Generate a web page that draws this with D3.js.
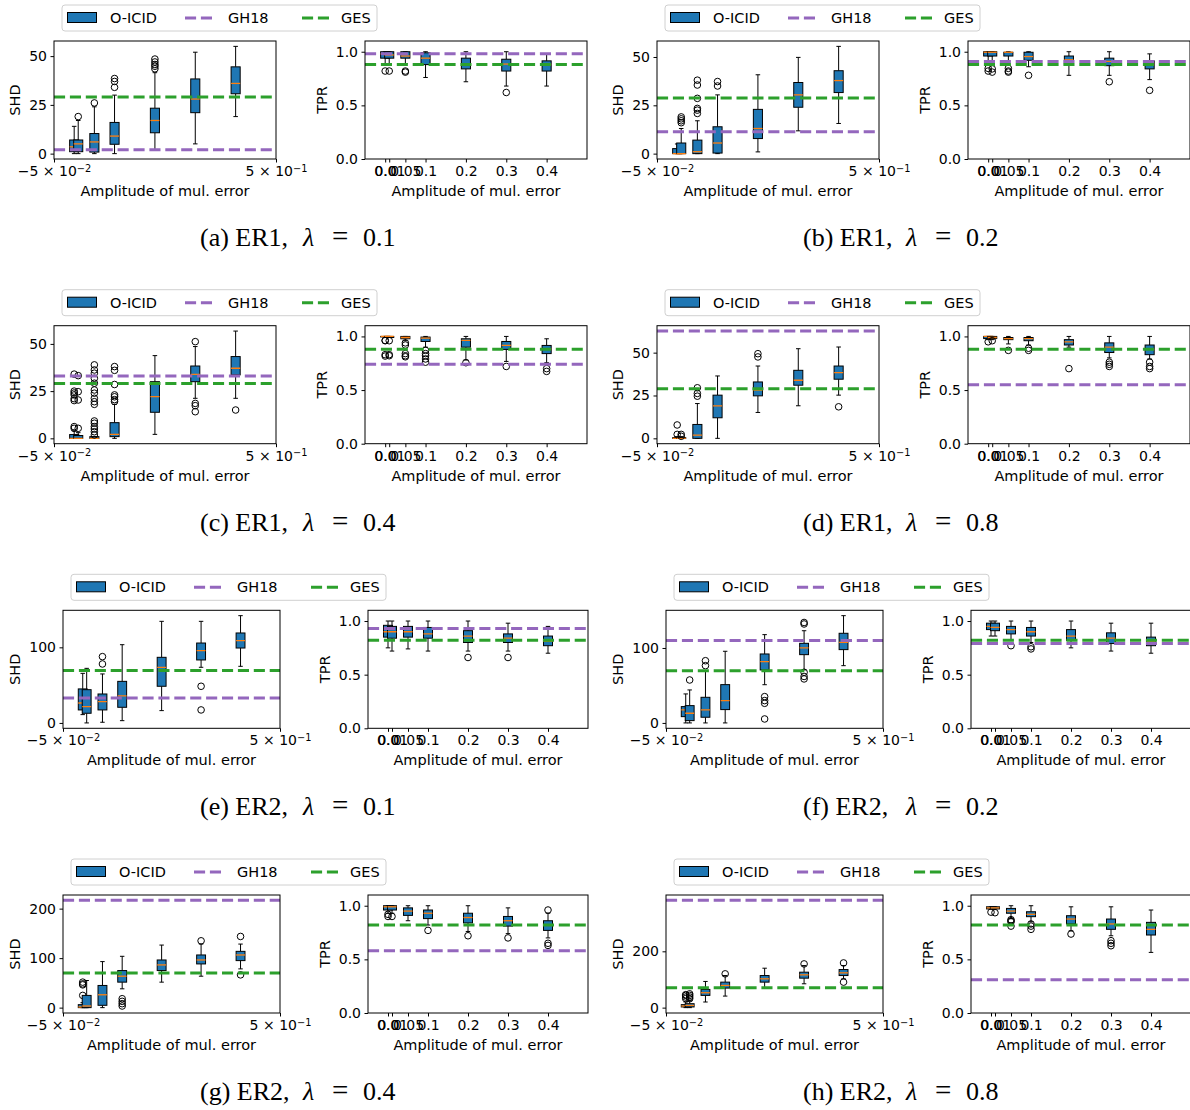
<!DOCTYPE html>
<html>
<head>
<meta charset="utf-8">
<script src="https://cdn.jsdelivr.net/npm/d3@7"></script>
<style>
  body { margin: 0; background: #fff; }
  text { font-family: "DejaVu Sans", sans-serif; fill: #000; }
  text.cap { font-family: "Liberation Serif", "DejaVu Serif", serif; }
</style>
</head>
<body>
<svg id="chart" width="1190" height="1110"></svg>
<script>
const POSITIONS = [0, 0.01, 0.05, 0.1, 0.2, 0.3, 0.4];
const TPR_TICK_LABELS = ["0.0", "0.01", "0.05", "0.1", "0.2", "0.3", "0.4"];
const PANEL_IDS = ["a", "b", "c", "d", "e", "f", "g", "h"];
const GRAPHS = ["ER1", "ER1", "ER1", "ER1", "ER2", "ER2", "ER2", "ER2"];
const LAMBDAS = ["0.1", "0.2", "0.4", "0.8", "0.1", "0.2", "0.4", "0.8"];
const SHD_TICKS = [[0, 25, 50], [0, 25, 50], [0, 25, 50], [0, 25, 50], [0, 100], [0, 100], [0, 100, 200], [0, 200]];
const TPR_TICKS = [0, 0.5, 1.0];

// reference lines (GH18, GES), one value per panel a..h
const GH18_SHD = [2, 11.3, 33, 62.6, 33, 110, 216.7, 381];
const GES_SHD = [29, 28.8, 29, 29, 69.2, 69.5, 70, 70.5];
const GH18_TPR = [0.98, 0.91, 0.74, 0.55, 0.93, 0.79, 0.58, 0.31];
const GES_TPR = [0.88, 0.88, 0.88, 0.88, 0.82, 0.82, 0.82, 0.82];

// box stats: [low whisker, q1, median, q3, high whisker, outliers]
const shdA = [
  [0, 1, 3.5, 7, 14, []],
  [0, 1, 5, 7, 17, [19]],
  [0, 0.8, 6, 10.3, 24, [26]],
  [0, 4.8, 9, 16, 30, [34, 37, 38.5]],
  [1.7, 10.7, 17, 23.3, 41.5, [43.5, 44.8, 45.7, 47, 48.5]],
  [5, 21, 28, 38.3, 52, []],
  [19, 30.7, 36, 44.5, 55, []]
];
const tprA = [
  [0.89, 0.94, 0.98, 1.0, 1.0, [0.82]],
  [0.89, 0.94, 0.97, 1.0, 1.0, [0.82]],
  [0.89, 0.94, 0.96, 1.0, 1.0, [0.82, 0.81]],
  [0.76, 0.88, 0.94, 0.99, 1.0, []],
  [0.72, 0.84, 0.885, 0.94, 1.0, []],
  [0.68, 0.82, 0.885, 0.93, 1.0, [0.62]],
  [0.68, 0.82, 0.88, 0.915, 0.98, []]
];
const shdB = [
  [0, 0, 0, 2.6, 5, []],
  [0, 0, 0, 5.5, 13, [16, 17, 18, 19]],
  [0, 0, 1, 7, 17, [20.8, 22.5, 23.4, 28.6, 35.5, 38]],
  [0, 0.3, 5.5, 13.9, 30.4, [35, 37.3]],
  [0.9, 7.8, 13, 22.9, 40.8, []],
  [11.8, 24, 30.4, 36.8, 49.8, []],
  [15.6, 31.6, 37.8, 42.9, 55.5, []]
];
const tprB = [
  [0.875, 0.96, 0.995, 1.0, 1.0, [0.845, 0.82]],
  [0.875, 0.96, 0.995, 1.0, 1.0, [0.84, 0.81]],
  [0.875, 0.96, 0.995, 0.995, 1.0, [0.845, 0.82, 0.81]],
  [0.86, 0.92, 0.955, 0.995, 1.0, [0.78]],
  [0.78, 0.885, 0.925, 0.96, 1.0, []],
  [0.78, 0.87, 0.91, 0.94, 1.0, [0.72]],
  [0.74, 0.84, 0.885, 0.915, 0.98, [0.64]]
];
const shdC = [
  [0, 0, 0, 2, 4, [5.3, 6.2, 20, 21, 23, 24, 25, 34]],
  [0, 0, 0, 1.5, 3, [5.3, 20.3, 24.7, 33.2]],
  [0, 0, 0, 0.9, 1, [1.8, 3.5, 5, 6.2, 8, 9.2, 18, 19.4, 21.2, 23.9, 25.6, 29.2, 31.8, 34.5, 36.2, 38.9]],
  [0, 0.9, 2.1, 8.3, 18, [19.5, 20.5, 22, 23, 28.5, 36, 38]],
  [2.1, 13.8, 22.1, 30, 43.8, []],
  [21.2, 30, 33.9, 38.3, 48.6, [14.1, 17.3, 18.5, 51.2]],
  [21.2, 33.6, 37.1, 43.3, 56.8, [15]]
];
const tprC = [
  [0.995, 0.995, 1.0, 1.0, 1.0, [0.963, 0.96, 0.83, 0.817]],
  [0.99, 0.99, 1.0, 1.0, 1.0, [0.96, 0.83, 0.82]],
  [0.96, 0.978, 0.99, 1.0, 1.0, [0.94, 0.92, 0.84, 0.82, 0.81]],
  [0.9, 0.953, 0.984, 0.994, 1.0, [0.87, 0.84, 0.82, 0.79, 0.76]],
  [0.78, 0.9, 0.963, 0.978, 1.0, [0.755]],
  [0.767, 0.879, 0.916, 0.953, 1.0, [0.72]],
  [0.755, 0.84, 0.885, 0.916, 0.978, [0.7, 0.674]]
];
const shdD = [
  [0, 0, 0, 0.4, 1, [2.3, 7.8]],
  [0, 0, 0, 0.4, 1, [1.2, 2.3]],
  [0, 0, 1.9, 8.1, 20.3, [24.6, 26.2, 29.5]],
  [0, 12, 19, 25.2, 36.4, []],
  [15.1, 24.8, 28.1, 32.9, 42.2, [47.5, 49.4]],
  [19, 31, 33.9, 39.7, 52.3, []],
  [25.2, 34.5, 38.4, 42.2, 53.3, [18.4]]
];
const tprD = [
  [0.97, 0.98, 1.0, 1.0, 1.0, [0.95]],
  [0.97, 0.98, 0.99, 1.0, 1.0, [0.96]],
  [0.93, 0.97, 0.98, 0.99, 1.0, [0.87]],
  [0.92, 0.96, 0.98, 0.99, 1.0, [0.89, 0.87]],
  [0.9, 0.92, 0.95, 0.97, 1.0, [0.7]],
  [0.8, 0.85, 0.9, 0.94, 1.0, [0.76, 0.74, 0.72]],
  [0.79, 0.83, 0.88, 0.92, 1.0, [0.76, 0.72, 0.7]]
];
const shdE = [
  [11, 17.2, 26.4, 45, 65.6, []],
  [0, 12.8, 21.6, 44, 72.2, []],
  [0.9, 17.2, 28.2, 38.3, 64.8, [78, 87.7]],
  [3, 20.7, 35.7, 55, 103.5, []],
  [16.3, 48.5, 73.6, 86.8, 134.4, []],
  [73.6, 83.3, 95.6, 105.7, 134.4, [48.5, 17.2]],
  [74.9, 99.1, 108.8, 119, 141.9, []]
];
const tprE = [
  [0.75, 0.85, 0.9, 0.96, 1.0, []],
  [0.72, 0.84, 0.9, 0.95, 1.0, []],
  [0.74, 0.85, 0.9, 0.95, 1.0, []],
  [0.72, 0.84, 0.88, 0.94, 1.0, []],
  [0.72, 0.8, 0.86, 0.91, 1.0, [0.66]],
  [0.72, 0.8, 0.84, 0.88, 0.98, [0.66]],
  [0.7, 0.77, 0.81, 0.86, 0.95, []]
];
const shdF = [
  [0, 8.4, 17.3, 21.8, 38.7, []],
  [0, 3.1, 12.9, 23.1, 44, [57.3]],
  [0, 7.6, 17.3, 34.2, 69.8, [76.4, 83]],
  [0, 17.8, 29.8, 51.1, 95.6, []],
  [51, 70.7, 81.8, 92, 117.8, [5.3, 26.2, 29.8, 35.1]],
  [70.7, 91.1, 100, 106.2, 123, [58.7, 62, 67.6, 132, 134]],
  [76.4, 97.8, 107.6, 119.6, 143.1, []]
];
const tprF = [
  [0.86, 0.92, 0.95, 0.98, 1.0, []],
  [0.86, 0.91, 0.94, 0.98, 1.0, []],
  [0.82, 0.88, 0.92, 0.95, 1.0, [0.77]],
  [0.8, 0.86, 0.9, 0.94, 1.0, [0.76, 0.74]],
  [0.75, 0.82, 0.86, 0.92, 1.0, []],
  [0.72, 0.79, 0.84, 0.89, 0.98, []],
  [0.7, 0.77, 0.81, 0.85, 0.98, []]
];
const shdG = [
  [0, 0, 1.3, 6, 10, [24.7, 46, 48, 51.5]],
  [0, 0, 3.3, 24.7, 54.8, []],
  [0, 4.7, 26, 44.8, 93, []],
  [38, 51.5, 63.5, 74.9, 103.7, [3.3, 8, 12.7, 18]],
  [51.5, 74.9, 86.3, 96.3, 126.4, []],
  [63.5, 88.3, 96.3, 106.4, 128.4, [135]],
  [78.3, 95, 106.4, 113.7, 128.4, [66.2, 143.8]]
];
const tprG = [
  [0.93, 0.96, 0.99, 1.0, 1.0, [0.9, 0.92]],
  [0.93, 0.96, 0.99, 1.0, 1.0, [0.9]],
  [0.86, 0.91, 0.95, 0.98, 1.0, []],
  [0.82, 0.88, 0.93, 0.96, 1.0, [0.77]],
  [0.76, 0.84, 0.89, 0.93, 1.0, [0.72]],
  [0.74, 0.81, 0.86, 0.9, 0.98, [0.7]],
  [0.7, 0.77, 0.82, 0.86, 0.93, [0.65, 0.63, 0.96]]
];
const shdH = [
  [0, 2.4, 5.9, 10.6, 20, [32, 37.6, 43.5, 46]],
  [0, 2.4, 8, 14, 26, [31.8, 37.6, 43.5, 49]],
  [20, 43.5, 52.9, 64.7, 93, []],
  [41, 69.4, 78.8, 90.6, 114, [120]],
  [69.4, 90.6, 102.4, 114, 140, []],
  [84.7, 104.7, 116.5, 125.9, 149.4, [155.3]],
  [102.4, 114, 123.5, 135.3, 149.4, [90.6, 158.8]]
];
const tprH = [
  [0.97, 0.97, 0.98, 0.99, 0.99, [0.94]],
  [0.97, 0.97, 0.98, 0.99, 0.99, [0.935]],
  [0.88, 0.93, 0.95, 0.975, 1.0, [0.81, 0.85, 0.86, 0.87]],
  [0.85, 0.898, 0.92, 0.944, 1.0, [0.83, 0.81, 0.78]],
  [0.767, 0.83, 0.876, 0.907, 0.99, [0.736]],
  [0.72, 0.78, 0.83, 0.876, 0.99, [0.674, 0.65, 0.627]],
  [0.565, 0.727, 0.78, 0.845, 0.96, []]
];

const SHD_BOXES = [shdA, shdB, shdC, shdD, shdE, shdF, shdG, shdH];
const TPR_BOXES = [tprA, tprB, tprC, tprD, tprE, tprF, tprG, tprH];

const BLUE = "#1f77b4", ORANGE = "#ff7f0e", PURPLE = "#9467bd", GREEN = "#2ca02c";
const DASH = "11.1 4.8";
const X_DOMAIN = [-0.05, 0.5];
const BOX_W = 0.0225;   // box width in data units
const FONT = 14;

const svg = d3.select("#chart");

// layout of the 4x2 grid
const COL_X = [0, 603];
const ROW_Y = [0, 284.7, 569.3, 854];
const AX_TOP = 41, AX_H = 118;
const AX_X = [
  { shd: [54, 276], tpr: [365, 587] },
  { shd: [63, 280], tpr: [368, 588] }
];

let clipId = 0;

function drawAxes(g, x0, x1, y0, boxes, yDomain, yTicks, yFmt, yLabel, lines, tprAxis) {
  const x = d3.scaleLinear().domain(X_DOMAIN).range([x0, x1]);
  const y = d3.scaleLinear().domain(yDomain).range([y0 + AX_H, y0]);
  const ax = g.append("g");

  const id = "clip" + (clipId++);
  ax.append("clipPath").attr("id", id)
    .append("rect").attr("x", x0).attr("y", y0).attr("width", x1 - x0).attr("height", AX_H);
  const plot = ax.append("g").attr("clip-path", `url(#${id})`);

  const half = (x(BOX_W) - x(0)) / 2;
  const bx = plot.selectAll(".box").data(boxes.map((b, i) => ({ p: POSITIONS[i], s: b })))
    .join("g").attr("class", "box");

  bx.append("line")
    .attr("x1", d => x(d.p)).attr("x2", d => x(d.p))
    .attr("y1", d => y(d.s[0])).attr("y2", d => y(d.s[1]))
    .attr("stroke", "#000").attr("stroke-width", 1);
  bx.append("line")
    .attr("x1", d => x(d.p)).attr("x2", d => x(d.p))
    .attr("y1", d => y(d.s[3])).attr("y2", d => y(d.s[4]))
    .attr("stroke", "#000").attr("stroke-width", 1);
  [0, 4].forEach(k => {
    bx.append("line")
      .attr("x1", d => x(d.p) - half / 2).attr("x2", d => x(d.p) + half / 2)
      .attr("y1", d => y(d.s[k])).attr("y2", d => y(d.s[k]))
      .attr("stroke", "#000").attr("stroke-width", 1);
  });
  bx.append("rect")
    .attr("x", d => x(d.p) - half).attr("width", half * 2)
    .attr("y", d => y(d.s[3])).attr("height", d => Math.max(0.5, y(d.s[1]) - y(d.s[3])))
    .attr("fill", BLUE).attr("stroke", "#000").attr("stroke-width", 1);
  bx.append("line")
    .attr("x1", d => x(d.p) - half).attr("x2", d => x(d.p) + half)
    .attr("y1", d => y(d.s[2])).attr("y2", d => y(d.s[2]))
    .attr("stroke", ORANGE).attr("stroke-width", 1.3);
  bx.selectAll("circle").data(d => d.s[5].map(v => ({ p: d.p, v })))
    .join("circle")
    .attr("cx", d => x(d.p)).attr("cy", d => y(d.v)).attr("r", 3.3)
    .attr("fill", "none").attr("stroke", "#000").attr("stroke-width", 1);

  plot.selectAll(".ref").data(lines).join("line").attr("class", "ref")
    .attr("x1", x0).attr("x2", x1)
    .attr("y1", d => y(d.v)).attr("y2", d => y(d.v))
    .attr("stroke", d => d.c).attr("stroke-width", 3).attr("stroke-dasharray", DASH);

  // y axis
  const ya = ax.append("g").attr("transform", `translate(${x0},0)`)
    .call(d3.axisLeft(y).tickValues(yTicks).tickFormat(yFmt).tickSize(3.5).tickPadding(3.5));
  ya.select(".domain").remove();
  ya.selectAll("text").attr("font-size", FONT);
  let maxW = 0;
  ya.selectAll("text").each(function () { maxW = Math.max(maxW, this.getBBox().width); });

  // x axis
  const xa = ax.append("g").attr("transform", `translate(0,${y0 + AX_H})`);
  if (tprAxis) {
    xa.call(d3.axisBottom(x).tickValues(POSITIONS).tickFormat((d, i) => TPR_TICK_LABELS[i])
      .tickSize(3.5).tickPadding(3.5));
  } else {
    xa.call(d3.axisBottom(x).tickValues(X_DOMAIN).tickFormat("").tickSize(3.5).tickPadding(3.5));
    const sup = ["−2", "−1"];
    const lead = ["−5 × 10", "5 × 10"];
    xa.selectAll(".tick text").each(function (d, i) {
      const t = d3.select(this).text(null);
      t.append("tspan").text(lead[i]);
      t.append("tspan").attr("dy", "-0.45em").attr("font-size", FONT * 0.7).text(sup[i]);
    });
  }
  xa.select(".domain").remove();
  xa.selectAll("text").attr("font-size", FONT);

  // spines
  ax.append("rect").attr("x", x0).attr("y", y0).attr("width", x1 - x0).attr("height", AX_H)
    .attr("fill", "none").attr("stroke", "#000").attr("stroke-width", 1);

  ax.append("text").attr("text-anchor", "middle").attr("font-size", 14.5)
    .attr("x", (x0 + x1) / 2).attr("y", y0 + AX_H + 37)
    .text("Amplitude of mul. error");
  ax.append("text").attr("text-anchor", "middle").attr("font-size", 14.5)
    .attr("transform", `translate(${x0 - maxW - 7 - 9},${y0 + AX_H / 2}) rotate(-90)`)
    .text(yLabel);
}

function padDomain(boxes, extra) {
  const vals = extra.slice();
  boxes.forEach(b => { vals.push(b[0], b[4], ...b[5]); });
  const [lo, hi] = d3.extent(vals);
  const m = (hi - lo) * 0.05;
  return [lo - m, hi + m];
}

function drawLegend(g, left, top) {
  const lg = g.append("g").attr("transform", `translate(${left},${top})`);
  lg.append("rect").attr("width", 315).attr("height", 26).attr("rx", 3)
    .attr("fill", "#fff").attr("fill-opacity", 0.8).attr("stroke", "#d0d0d0");
  lg.append("rect").attr("x", 5.5).attr("y", 7.5).attr("width", 29).attr("height", 10)
    .attr("fill", BLUE).attr("stroke", "#000").attr("stroke-width", 1);
  const items = [
    { x: 48, t: "O-ICID" },
    { x: 166, t: "GH18", c: PURPLE, lx: 123 },
    { x: 279, t: "GES", c: GREEN, lx: 240 }
  ];
  items.forEach(it => {
    if (it.c) {
      lg.append("line").attr("x1", it.lx).attr("x2", it.lx + 29).attr("y1", 13).attr("y2", 13)
        .attr("stroke", it.c).attr("stroke-width", 3).attr("stroke-dasharray", DASH);
    }
    lg.append("text").attr("x", it.x).attr("y", 18).attr("font-size", 14.5).text(it.t);
  });
}

function drawCaption(g, i) {
  const cap = g.append("g").attr("font-size", 26);
  cap.append("text").attr("class", "cap").attr("x", 200).attr("y", 246)
    .text(`(${PANEL_IDS[i]}) ${GRAPHS[i]},`);
  cap.append("text").attr("class", "cap").attr("x", 303).attr("y", 246)
    .attr("font-style", "italic").text("λ");
  cap.append("text").attr("class", "cap").attr("x", 332).attr("y", 246)
    .attr("font-size", 29).text("=");
  cap.append("text").attr("class", "cap").attr("x", 363).attr("y", 246)
    .text(LAMBDAS[i]);
}

PANEL_IDS.forEach((pid, i) => {
  const col = i % 2, row = Math.floor(i / 2);
  const ox = COL_X[col], oy = ROW_Y[row];
  const geo = AX_X[row < 2 ? 0 : 1];
  const g = svg.append("g").attr("transform", `translate(${ox},${oy})`);

  drawLegend(g, geo.shd[0] + 8, 5);

  const shdLines = [{ v: GH18_SHD[i], c: PURPLE }, { v: GES_SHD[i], c: GREEN }];
  drawAxes(g, geo.shd[0], geo.shd[1], AX_TOP, SHD_BOXES[i],
    padDomain(SHD_BOXES[i], [GH18_SHD[i], GES_SHD[i]]),
    SHD_TICKS[i], d3.format("d"), "SHD", shdLines, false);

  const tprLines = [{ v: GH18_TPR[i], c: PURPLE }, { v: GES_TPR[i], c: GREEN }];
  drawAxes(g, geo.tpr[0], geo.tpr[1], AX_TOP, TPR_BOXES[i], [0, 1.1],
    TPR_TICKS, d3.format(".1f"), "TPR", tprLines, true);

  drawCaption(g, i);
});
</script>
</body>
</html>
